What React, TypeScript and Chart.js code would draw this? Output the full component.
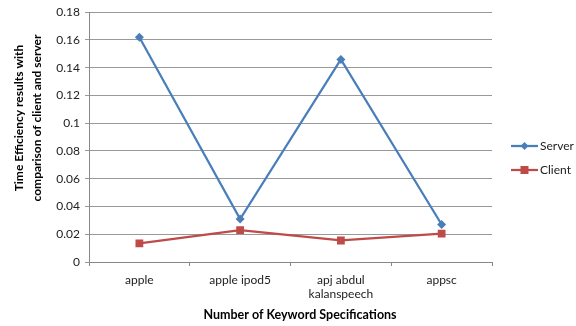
import React, { useEffect, useRef } from 'react';
import { Chart, registerables } from 'chart.js';
Chart.register(...registerables);

const categories: (string | string[])[] = ['apple', 'apple ipod5', ['apj abdul', 'kalanspeech'], 'appsc'];
const serverValues = [0.162, 0.031, 0.146, 0.027];
const clientValues = [0.0135, 0.023, 0.0155, 0.0205];
const seriesNames = ['Server', 'Client'];
const yMin = 0;
const yMax = 0.18;
const yStep = 0.02;
const xTitle = 'Number of Keyword Specifications';
const yTitleLines = ['Time Efficiency results with', 'comparison of client and server'];

const SERVER_COLOR = '#4A7EBB';
const CLIENT_COLOR = '#BE4B48';
const FONT = 'Lato, "Open Sans", sans-serif';

const overlayPlugin = {
  id: 'overlay',
  afterDraw(chart: any) {
    const ctx = chart.ctx;
    ctx.save();
    ctx.fillStyle = '#000';
    ctx.font = `bold 12.5px ${FONT}`;
    ctx.textAlign = 'center';
    ctx.textBaseline = 'middle';
    ctx.fillText(xTitle, 300, 315);
    ctx.save();
    ctx.translate(28, 118);
    ctx.rotate(-Math.PI / 2);
    ctx.font = `bold 12px ${FONT}`;
    ctx.fillText(yTitleLines[0], 0, -9);
    ctx.fillText(yTitleLines[1], 0, 9);
    ctx.restore();
    const items = [
      { name: seriesNames[0], color: SERVER_COLOR, style: 'diamond', y: 146 },
      { name: seriesNames[1], color: CLIENT_COLOR, style: 'square', y: 170 },
    ];
    items.forEach((it) => {
      ctx.strokeStyle = it.color;
      ctx.fillStyle = it.color;
      ctx.lineWidth = 2.25;
      ctx.beginPath();
      ctx.moveTo(511, it.y);
      ctx.lineTo(538, it.y);
      ctx.stroke();
      const cx = 524.5;
      ctx.beginPath();
      if (it.style === 'diamond') {
        ctx.moveTo(cx, it.y - 4);
        ctx.lineTo(cx + 4, it.y);
        ctx.lineTo(cx, it.y + 4);
        ctx.lineTo(cx - 4, it.y);
        ctx.closePath();
      } else {
        ctx.rect(cx - 4, it.y - 4, 8, 8);
      }
      ctx.fill();
      ctx.fillStyle = '#222';
      ctx.font = `12px ${FONT}`;
      ctx.textAlign = 'left';
      ctx.textBaseline = 'middle';
      ctx.fillText(it.name, 540, it.y);
    });
    ctx.restore();
  },
};

export default function App() {
  const ref = useRef<HTMLCanvasElement | null>(null);
  useEffect(() => {
    if (!ref.current) return;
    const chart = new Chart(ref.current, {
      type: 'line',
      data: {
        labels: categories as any,
        datasets: [
          {
            label: seriesNames[0],
            data: serverValues,
            borderColor: SERVER_COLOR,
            backgroundColor: SERVER_COLOR,
            borderWidth: 2.25,
            pointStyle: 'rectRot',
            pointRadius: 4.5,
            pointBorderWidth: 0,
            tension: 0,
          },
          {
            label: seriesNames[1],
            data: clientValues,
            borderColor: CLIENT_COLOR,
            backgroundColor: CLIENT_COLOR,
            borderWidth: 2.25,
            pointStyle: 'rect',
            pointRadius: 5.5,
            pointBorderWidth: 0,
            tension: 0,
          },
        ],
      },
      options: {
        animation: false,
        responsive: true,
        maintainAspectRatio: false,
        layout: { padding: { top: 11, right: 84, bottom: 0, left: 0 } },
        plugins: { legend: { display: false }, tooltip: { enabled: false } },
        scales: {
          x: {
            offset: true,
            afterFit: (s: any) => { s.height = 64; },
            grid: { offset: true, drawOnChartArea: false, drawTicks: true, tickLength: 4, color: '#888' },
            border: { display: true, color: '#888', width: 1 },
            ticks: { color: '#222', font: { family: FONT, size: 12 }, padding: 7, maxRotation: 0, autoSkip: false },
          },
          y: {
            min: yMin,
            max: yMax,
            afterFit: (s: any) => { s.width = 89; },
            grid: { color: '#999', tickLength: 4, lineWidth: 1 },
            border: { display: true, color: '#888' },
            ticks: {
              stepSize: yStep,
              padding: 5,
              color: '#222',
              font: { family: FONT, size: 12 },
              callback: (v: any) => String(+Number(v).toFixed(2)),
            },
          },
        },
      },
      plugins: [overlayPlugin],
    });
    return () => chart.destroy();
  }, []);
  return (
    <div style={{ position: 'fixed', left: 0, top: 0, width: 576, height: 326, background: '#fff' }}>
      <canvas ref={ref} />
    </div>
  );
}
